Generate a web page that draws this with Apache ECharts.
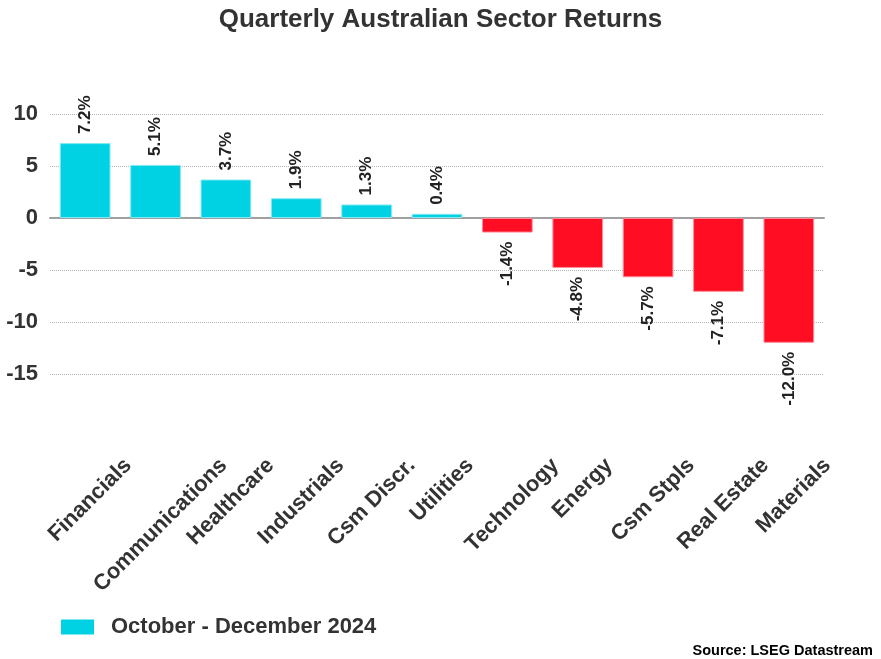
<!DOCTYPE html>
<html>
<head>
<meta charset="utf-8">
<script src="https://cdn.jsdelivr.net/npm/echarts@6/dist/echarts.min.js"></script>
<style>
html,body{margin:0;padding:0;background:#fff;}
#chart{width:881px;height:659px;}
</style>
</head>
<body>
<div id="chart"></div>
<script>
const categories = ['Financials','Communications','Healthcare','Industrials','Csm Discr.','Utilities','Technology','Energy','Csm Stpls','Real Estate','Materials'];
const returns = [7.2, 5.1, 3.7, 1.9, 1.3, 0.4, -1.4, -4.8, -5.7, -7.1, -12.0];
const yTicks = { min: -15, max: 10, interval: 5 };
const seriesName = 'October - December 2024';
const titleText = 'Quarterly Australian Sector Returns';
const sourceText = 'Source: LSEG Datastream';

const POS_COLOR = '#00D1E3';
const NEG_COLOR = '#FF0D22';
const TEXT = '#333333';
const FONT = '"Liberation Sans", Arial, sans-serif';

// measure label widths to place rotated labels like the reference
const ctx = document.createElement('canvas').getContext('2d');
ctx.font = 'bold 22px "Liberation Sans"';
const rich = {};
categories.forEach((c, i) => {
  const L = ctx.measureText(c).width;
  rich['c' + i] = {
    fontFamily: FONT, fontSize: 22, fontWeight: 'bold', color: TEXT,
    padding: [L / 2 + 7, L / 2, 0, 7]
  };
});

const data = returns.map(v => {
  const neg = v < 0;
  return {
    value: v,
    itemStyle: {
      color: neg ? NEG_COLOR : POS_COLOR,
      borderColor: neg ? '#FF8A96' : '#80E8F1',
      borderWidth: 1
    },
    label: neg
      ? { position: 'bottom', align: 'right' }
      : { position: 'top', align: 'left' }
  };
});

const chart = echarts.init(document.getElementById('chart'));
chart.setOption({
  animation: false,
  backgroundColor: '#fff',
  title: [
    { text: titleText, left: 'center', top: 2,
      textStyle: { fontFamily: FONT, fontSize: 26, fontWeight: 'bold', color: TEXT } },
    { text: sourceText, right: 8, top: 643, padding: 0,
      textStyle: { fontFamily: FONT, fontSize: 14.5, fontWeight: 'bold', color: '#000' } }
  ],
  legend: {
    left: 56, top: 611,
    itemWidth: 33, itemHeight: 15, itemGap: 10,
    icon: 'rect',
    textStyle: { fontFamily: FONT, fontSize: 22, fontWeight: 'bold', color: TEXT, padding: [0, 0, 0, 12] },
    data: [{ name: seriesName, itemStyle: { color: POS_COLOR, borderWidth: 0 } }]
  },
  grid: { left: 50, right: 57, top: 114, bottom: 285, containLabel: false, outerBoundsMode: 'none' },
  xAxis: {
    type: 'category',
    data: categories,
    axisLine: { show: true, onZero: true, lineStyle: { color: '#A0A0A0', width: 2 } },
    axisTick: { show: false },
    splitLine: { show: false },
    axisLabel: {
      interval: 0,
      rotate: 45,
      align: 'center',
      verticalAlign: 'middle',
      margin: 88,
      fontFamily: FONT, fontSize: 22, fontWeight: 'bold', color: TEXT,
      formatter: (v, i) => '{c' + i + '|' + v + '}',
      rich: rich
    }
  },
  yAxis: {
    type: 'value',
    min: yTicks.min, max: yTicks.max, interval: yTicks.interval,
    axisLine: { show: false },
    axisTick: { show: false },
    splitLine: { show: true, lineStyle: { color: '#B5B5B5', type: 'dotted', width: 1 } },
    axisLabel: { margin: 12, fontFamily: FONT, fontSize: 22, fontWeight: 'bold', color: TEXT }
  },
  series: [{
    name: seriesName,
    type: 'bar',
    barWidth: '72%',
    data: data,
    itemStyle: { color: POS_COLOR },
    label: {
      show: true,
      rotate: 90,
      verticalAlign: 'middle',
      distance: 9,
      fontFamily: FONT, fontSize: 17, fontWeight: 'bold', color: '#222',
      formatter: p => p.value.toFixed(1) + '%'
    }
  }]
});
</script>
</body>
</html>
